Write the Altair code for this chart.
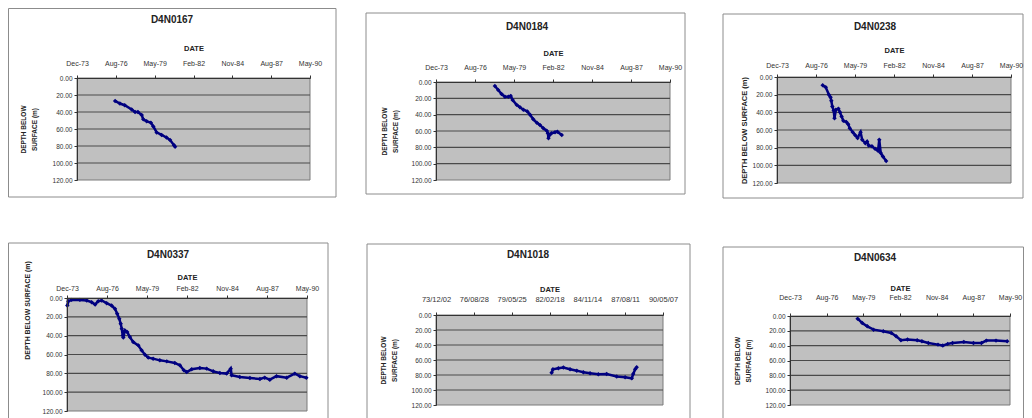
import altair as alt
import pandas as pd

FONT = "Liberation Sans"
NAVY = "#000080"

# ---- shared axis settings (Excel-style date axis, 1000-day major unit) ----
AXIS_START = "1973-12-02"
AXIS_END = "1990-05-07"
TICK_DATES = ["1973-12-02", "1976-08-28", "1979-05-25", "1982-02-18",
              "1984-11-14", "1987-08-11", "1990-05-07"]
DEPTH_TICKS = [0, 20, 40, 60, 80, 100, 120]
GRID_DEPTHS = [20, 40, 60, 80, 100]
Y_TITLE_2 = ["DEPTH BELOW", "SURFACE (m)"]
Y_TITLE_1 = "DEPTH BELOW SURFACE (m)"

# ---- series ----
p1_name = "D4N0167"
p1_dates = ["1976-08-10", "1976-12-10", "1977-04-15", "1977-10-10", "1978-01-05",
            "1978-03-20", "1978-06-25", "1978-08-05", "1978-11-01", "1979-02-15",
            "1979-04-20", "1979-07-15", "1979-11-20", "1980-03-25", "1980-06-25",
            "1980-10-05", "1980-11-01"]
p1_depth = [27, 30, 32, 37, 40, 40, 43.5, 48.6, 51, 52.5, 57, 64, 67, 70, 73, 79, 81]

p2_name = "D4N0184"
p2_dates = ["1978-01-20", "1978-04-15", "1978-07-10", "1978-10-05", "1979-01-01",
            "1979-03-01", "1979-04-20", "1979-08-01", "1979-10-25", "1980-01-20",
            "1980-05-01", "1980-07-10", "1980-10-01", "1981-01-01", "1981-03-20",
            "1981-06-15", "1981-09-10", "1981-10-10", "1981-10-25", "1981-11-20",
            "1982-01-10", "1982-04-10", "1982-06-10", "1982-09-30"]
p2_depth = [4.9, 9.8, 14.7, 18, 18, 17, 22, 28, 31, 34, 36, 40, 45.7, 50, 52.6,
            56.7, 59.6, 62.8, 69, 65, 62.8, 61.6, 60.8, 64.9]

p3_name = "D4N0238"
p3_dates = ["1977-02-15", "1977-05-05", "1977-07-25", "1977-09-05", "1977-09-25",
            "1977-10-20", "1977-11-25", "1977-12-15", "1978-01-20", "1978-03-25",
            "1978-05-05", "1978-06-15", "1978-07-30", "1978-10-15", "1978-12-01",
            "1979-01-10", "1979-03-30", "1979-06-01", "1979-07-30", "1979-10-15",
            "1979-11-25", "1980-02-15", "1980-03-30", "1980-05-10", "1980-08-01",
            "1980-10-20", "1981-01-05", "1981-02-05", "1981-03-15", "1981-05-10",
            "1981-08-01"]
p3_depth = [9.4, 11.7, 20, 23, 26.8, 33.3, 38, 46.6, 37, 36, 40, 44.6, 49.5, 51,
            53.4, 58, 62.5, 66, 69, 62.5, 71, 75, 73, 77.6, 78.5, 81.2, 83.5, 71,
            86, 90, 95]

p4_name = "D4N0337"
p4_dates = ["1973-12-10", "1974-01-05", "1974-03-25", "1974-10-20", "1975-04-10",
            "1975-08-10", "1975-11-05", "1976-01-20", "1976-04-15", "1976-08-20",
            "1976-12-20", "1977-03-15", "1977-05-10", "1977-07-01", "1977-08-05",
            "1977-09-01", "1977-09-25", "1977-10-10", "1977-11-20", "1978-01-15",
            "1978-03-25", "1978-06-15", "1978-10-20", "1979-01-10", "1979-04-05",
            "1979-06-25", "1979-10-25", "1980-04-10", "1980-10-01", "1981-04-20",
            "1981-08-25", "1981-12-01", "1982-02-10", "1982-06-15", "1983-01-05",
            "1983-06-25", "1983-12-05", "1984-05-20", "1984-11-05", "1985-02-15",
            "1985-03-10", "1985-10-01", "1986-06-10", "1987-02-15", "1987-06-15",
            "1987-10-20", "1988-04-05", "1988-12-15", "1989-07-05", "1989-11-10",
            "1990-04-20"]
p4_depth = [8, 3.4, 2, 2, 2.6, 4.4, 6.9, 3.4, 2.6, 5.5, 8, 11.5, 16.8, 22, 27.3,
            32.6, 39.7, 42, 34.4, 36.2, 41.5, 46.8, 50.3, 55.6, 60.2, 63.3, 64.4,
            66.2, 67.3, 69, 71.5, 76.8, 78.6, 75.7, 74.3, 75, 77.9, 79.6, 80.3, 75,
            82, 83.9, 85, 86, 84.6, 86.7, 83, 84.6, 80.3, 83, 84.6]

p5_name = "D4N1018"
p5_dates = ["1982-04-15", "1982-05-20", "1982-10-10", "1983-02-20", "1983-08-15",
            "1984-02-10", "1984-08-01", "1985-01-25", "1985-09-01", "1986-04-10",
            "1987-01-01", "1987-08-10", "1988-02-01", "1988-03-10", "1988-05-01",
            "1988-06-10"]
p5_depth = [77, 72.4, 71, 70, 72.4, 74.2, 76.4, 77.8, 79, 78.7, 82, 83, 84.4,
            78.7, 72.4, 69.7]

p6_name = "D4N0634"
p6_dates = ["1978-12-20", "1979-04-25", "1979-09-10", "1980-03-01", "1980-11-20",
            "1981-06-25", "1981-11-05", "1982-03-15", "1982-09-10", "1983-06-01",
            "1983-10-10", "1984-04-01", "1984-12-20", "1985-04-30", "1985-09-10",
            "1986-01-20", "1986-11-25", "1987-08-15", "1988-03-20", "1988-08-01",
            "1989-04-20", "1990-02-20"]
p6_depth = [3.6, 9.4, 13.9, 18.4, 20.5, 22.8, 27.3, 32.7, 31.8, 32.7, 34, 36.3,
            38.6, 39.9, 37.6, 36.3, 34.9, 36.3, 36.3, 33.2, 33.2, 34]


def dt(s):
    y, m, d = (int(v) for v in s.split("-"))
    return alt.DateTime(year=y, month=m, date=d)


def panel(name, dates, depths, lay):
    L, R, T, B = lay["plot"]
    fx1, fx2, fy1, fy2 = lay["frame"]
    xs = alt.Scale(domain=[dt(AXIS_START), dt(AXIS_END)], range=[L, R])
    ys = alt.Scale(domain=[0, 120], range=[T, B], nice=False, zero=False)
    xa = alt.Axis(orient="top", offset=-T, values=[dt(v) for v in TICK_DATES],
                  format=lay["fmt"], title="DATE", grid=False, zindex=2,
                  labelFont=FONT, labelFontSize=lay.get("xls", 7), labelColor="#333",
                  labelPadding=lay["lp"], labelOverlap=False, labelFlush=False,
                  tickSize=3, tickColor="#333", domainColor="#333",
                  titleFont=FONT, titleFontSize=7.5, titleFontWeight="bold",
                  titleColor="#222", titlePadding=lay["tp"])
    yextra = {}
    if "yty" in lay:
        yextra["titleY"] = lay["yty"]
    ya = alt.Axis(orient="left", offset=-L, values=DEPTH_TICKS, format=".2f",
                  title=lay["ytitle"], grid=False, zindex=2,
                  labelFont=FONT, labelFontSize=6.5, labelColor="#333",
                  labelPadding=2, labelOverlap=False, labelFlush=False,
                  tickSize=3, tickColor="#333", domainColor="#333",
                  titleFont=FONT, titleFontSize=lay.get("yts", 6.5),
                  titleFontWeight="bold", titleColor="#222", titleLineHeight=10.5,
                  titlePadding=lay["ytp"], **yextra)

    def X(f):
        return alt.X(f, type="temporal", scale=xs, axis=xa)

    def Y(f):
        return alt.Y(f, type="quantitative", scale=ys, axis=ya)

    one = alt.Data(values=[{}])
    frame = alt.Chart(one).mark_rect(fill="white", stroke="#8c8c8c", strokeWidth=1).encode(
        x=alt.value(fx1), x2=alt.value(fx2), y=alt.value(fy1), y2=alt.value(fy2))
    title = alt.Chart(one).mark_text(font=FONT, fontSize=10, fontWeight="bold",
                                     color="#222", baseline="middle").encode(
        x=alt.value(lay["title"][0]), y=alt.value(lay["title"][1]),
        text=alt.value(name))

    bg_df = pd.DataFrame({"s": pd.to_datetime([AXIS_START]),
                          "e": pd.to_datetime([AXIS_END]),
                          "lo": [0], "hi": [120]})
    bg = alt.Chart(bg_df).mark_rect(fill="#c0c0c0", stroke="#7a7a7a", strokeWidth=1).encode(
        x=X("s"), x2=alt.X2("e"), y=Y("lo"), y2=alt.Y2("hi"))

    grid_df = pd.DataFrame({"s": pd.to_datetime([AXIS_START] * len(GRID_DEPTHS)),
                            "e": pd.to_datetime([AXIS_END] * len(GRID_DEPTHS)),
                            "g": GRID_DEPTHS})
    grid = alt.Chart(grid_df).mark_rule(color="#4a4a4a", strokeWidth=1.2).encode(
        x=X("s"), x2=alt.X2("e"), y=Y("g"))

    df = pd.DataFrame({"date": pd.to_datetime(dates), "depth": depths})
    line = alt.Chart(df).mark_line(color=NAVY, strokeWidth=2.5).encode(
        x=X("date"), y=Y("depth"))
    pts = alt.Chart(df).mark_point(shape="diamond", filled=True, color=NAVY,
                                   size=20, opacity=1).encode(
        x=X("date"), y=Y("depth"))

    return alt.layer(frame, bg, grid, line, pts, title).properties(
        width=lay["w"], height=lay["h"])


# layout: view widths sum to 1016 so the page never grows wider than the window
LAY1 = dict(w=343, h=220, frame=[0.5, 328, 0.5, 189], plot=[69, 302, 70, 172],
            title=[164, 12], fmt="%b-%y", lp=9, tp=7, ytitle=Y_TITLE_2, ytp=15)
LAY2 = dict(w=358, h=220, frame=[15, 334, 5, 186], plot=[85, 319, 74, 172],
            title=[176, 19], fmt="%b-%y", lp=9, tp=6, ytitle=Y_TITLE_2, ytp=13)
LAY3 = dict(w=315, h=220, frame=[14, 314, 6, 190], plot=[68, 302, 69, 175],
            title=[166, 19], fmt="%b-%y", lp=6, tp=7, ytitle=Y_TITLE_1, ytp=4,
            yts=7.5)
LAY4 = dict(w=343, h=200, frame=[0.5, 320, 15, 200], plot=[59, 299, 70, 183],
            title=[160, 27], fmt="%b-%y", lp=4, tp=3, ytitle=Y_TITLE_1, ytp=12,
            yts=6.9, yty=82)
LAY5 = dict(w=358, h=200, frame=[16, 339, 16, 200], plot=[85, 312, 87, 177],
            title=[177, 27], fmt="%y/%m/%d", xls=7.5, lp=9, tp=2,
            ytitle=Y_TITLE_2, ytp=14)
LAY6 = dict(w=315, h=200, frame=[14, 314.5, 19, 200], plot=[81, 301, 88, 177],
            title=[166, 30], fmt="%b-%y", lp=13, tp=1, ytitle=Y_TITLE_2, ytp=14)

row1 = alt.hconcat(panel(p1_name, p1_dates, p1_depth, LAY1),
                   panel(p2_name, p2_dates, p2_depth, LAY2),
                   panel(p3_name, p3_dates, p3_depth, LAY3), spacing=0,
                   bounds="flush")
row2 = alt.hconcat(panel(p4_name, p4_dates, p4_depth, LAY4),
                   panel(p5_name, p5_dates, p5_depth, LAY5),
                   panel(p6_name, p6_dates, p6_depth, LAY6), spacing=0,
                   bounds="flush")

chart = alt.vconcat(row1, row2, spacing=0).properties(
    padding=0, background="white"
).configure_view(strokeWidth=0).configure_concat(spacing=0)

chart.save("out.html", embed_options={"renderer": "svg", "actions": False})
